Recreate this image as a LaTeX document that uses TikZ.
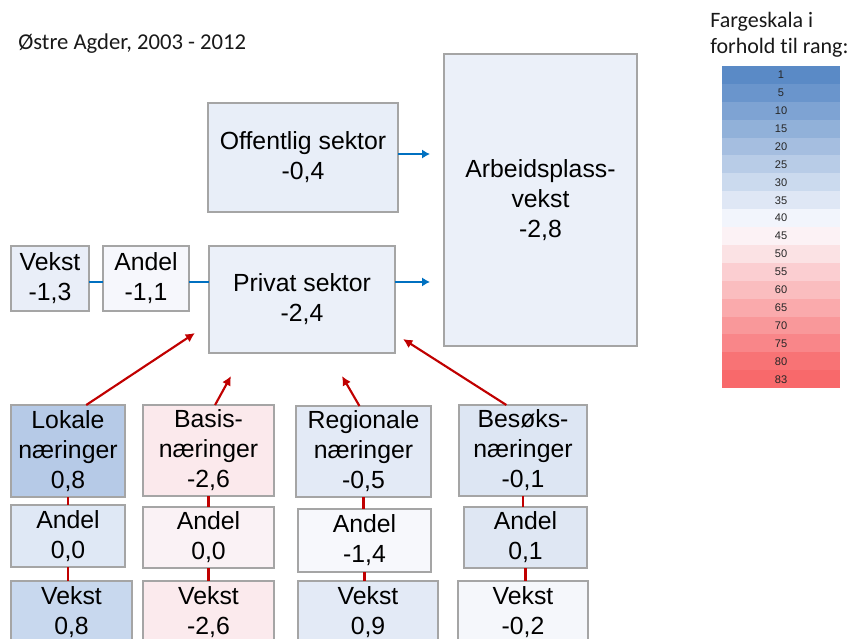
\documentclass[tikz,border=0pt]{standalone}
\usepackage{fontspec}
\setmainfont{Liberation Sans}
\newfontfamily\calfont[Ligatures=NoCommon]{Carlito}
\usetikzlibrary{arrows.meta,calc}

\definecolor{bordergray}{HTML}{A5A5A5}
\definecolor{redc}{HTML}{C00000}
\definecolor{bluec}{HTML}{0070C0}
\definecolor{lb}{HTML}{5A8AC6}
\definecolor{lw}{HTML}{FCFCFF}
\definecolor{lr}{HTML}{F8696B}
\definecolor{cOff}{HTML}{E8EEF8}
\definecolor{cPriv}{HTML}{EBF0F9}
\definecolor{cArb}{HTML}{EBF0F9}
\definecolor{cVt}{HTML}{E9EEF8}
\definecolor{cAt}{HTML}{F6F7FC}
\definecolor{cLok}{HTML}{B6CAE7}
\definecolor{cBas}{HTML}{FBE9EC}
\definecolor{cReg}{HTML}{E3EAF6}
\definecolor{cBes}{HTML}{DDE6F3}
\definecolor{cALok}{HTML}{DFE8F5}
\definecolor{cABas}{HTML}{FAF2F5}
\definecolor{cAReg}{HTML}{F7F8FC}
\definecolor{cABes}{HTML}{DFE7F3}
\definecolor{cVLok}{HTML}{C8D8EE}
\definecolor{cVBas}{HTML}{FBEAED}
\definecolor{cVReg}{HTML}{E3EAF6}
\definecolor{cVBes}{HTML}{F5F7FB}

\newcommand\mybox[7]{\node[bx, fill=#6, minimum width={(#4-#2)*0.75pt}, minimum height={(#5-#3)*0.75pt}] (#1) at ({(#2+#4)/2},{(#3+#5)/2}) {#7};}

\begin{document}
\begin{tikzpicture}[x=0.75pt,y=-0.75pt,
  bx/.style={draw=bordergray, line width=1.1pt, inner sep=0pt, outer sep=0pt, align=center, font=\fontsize{18.6}{22.5}\selectfont, text=black},
  redline/.style={draw=redc, line width=1.6pt},
  redarrow/.style={redline, -{Latex[length=7pt,width=7pt]}},
  blueline/.style={draw=bluec, line width=1.6pt},
  bluearrow/.style={blueline, -{Latex[length=6pt,width=7pt]}},
  legcell/.style={inner sep=0pt, outer sep=0pt, minimum width=88.5pt, minimum height=13.5pt, font=\fontsize{8.3}{9}\selectfont, text=black!85},
  captxt/.style={font=\calfont\fontsize{16.5}{20}\selectfont, inner sep=0pt, anchor=base west, text=black!90}
]
\useasboundingbox (0,0) rectangle (851,639);
\clip (0,0) rectangle (851,639);

% titles
\node[captxt, font=\calfont\fontsize{17}{20}\selectfont] (title) at (18,49) {Østre Agder, 2003 - 2012};
\node[captxt] (lt1) at (710,27) {Fargeskala i};
\node[captxt] (lt2) at (710,53) {forhold til rang:};

% upper boxes
\mybox{off}{208}{103}{398}{212}{cOff}{Offentlig sektor\\-0,4}
\mybox{arb}{444}{54}{637}{346}{cArb}{Arbeidsplass-\\vekst\\-2,8}
\mybox{vt}{11}{246}{89}{311}{cVt}{Vekst\\-1,3}
\mybox{at}{103}{246}{189}{311}{cAt}{Andel\\-1,1}
\mybox{priv}{209}{246}{395}{353}{cPriv}{Privat sektor\\-2,4}

% lower boxes
\mybox{lok}{11}{405}{125}{497}{cLok}{Lokale\\næringer\\0,8}
\mybox{bas}{143}{405}{274}{496}{cBas}{Basis-\\næringer\\-2,6}
\mybox{reg}{296}{406}{431}{497}{cReg}{Regionale\\næringer\\-0,5}
\mybox{bes}{459}{405}{587}{496}{cBes}{Besøks-\\næringer\\-0,1}
\mybox{alok}{11}{505}{125}{567}{cALok}{Andel\\0,0}
\mybox{abas}{143}{507}{274}{568}{cABas}{Andel\\0,0}
\mybox{areg}{298}{509}{431}{572}{cAReg}{Andel\\-1,4}
\mybox{abes}{464}{507}{587}{568}{cABes}{Andel\\0,1}
\mybox{vlok}{11}{581}{132}{643}{cVLok}{Vekst\\0,8}
\mybox{vbas}{143}{581}{274}{643}{cVBas}{Vekst\\-2,6}
\mybox{vreg}{298}{581}{438}{643}{cVReg}{Vekst\\0,9}
\mybox{vbes}{458}{581}{588}{643}{cVBes}{Vekst\\-0,2}

% blue connectors
\coordinate (bl) at ([yshift=-2.6pt]at.east);
\draw[blueline] ([yshift=-2.6pt]vt.east) -- ([yshift=-2.6pt]at.west);
\draw[blueline] (bl) -- (bl -| priv.west);
\draw[bluearrow, shorten >=10.5pt] (priv.east |- bl) -- (arb.west |- bl);
\draw[bluearrow, shorten >=10.5pt] ([yshift=2.6pt]off.east) -- ([yshift=2.6pt]off.east -| arb.west);

% red vertical connectors
\draw[redline] (lok.south) -- (alok.north);
\draw[redline] (alok.south) -- (alok.south |- vlok.north);
\draw[redline] (bas.south) -- (bas.south |- abas.north);
\draw[redline] (abas.south) -- (abas.south |- vbas.north);
\draw[redline] (reg.south) -- (reg.south |- areg.north);
\draw[redline] (areg.south) -- (areg.south |- vreg.north);
\draw[redline] (bes.south) -- (bes.south |- abes.north);
\draw[redline] (abes.south) -- (abes.south |- vbes.north);

% red arrows to private sector
\coordinate (t1) at (195,333);
\coordinate (t2) at (231,376);
\coordinate (t3) at (342,376);
\coordinate (t4) at (403,339);
\draw[redarrow] ($(lok.north west)!0.66!(lok.north east)$) -- (t1);
\draw[redarrow] ($(bas.north west)!0.55!(bas.north east)$) -- (t2);
\draw[redarrow] ($(reg.north west)!0.47!(reg.north east)$) -- (t3);
\draw[redarrow] ($(bes.north west)!0.37!(bes.north east)$) -- (t4);

% legend
\foreach \v/\p/\col [count=\i] in {1/100/lb, 5/90/lb, 10/78/lb, 15/66/lb, 20/54/lb, 25/42/lb, 30/30/lb, 35/18/lb, 40/6/lb, 45/7/lr, 50/18/lr, 55/31/lr, 60/43/lr, 65/56/lr, 70/68/lr, 75/80/lr, 80/93/lr, 83/100/lr}
  \node[legcell, fill=\col!\p!lw] (lg\i) at (781,{66+(\i-0.5)*17.9}) {\v};
\end{tikzpicture}
\end{document}
